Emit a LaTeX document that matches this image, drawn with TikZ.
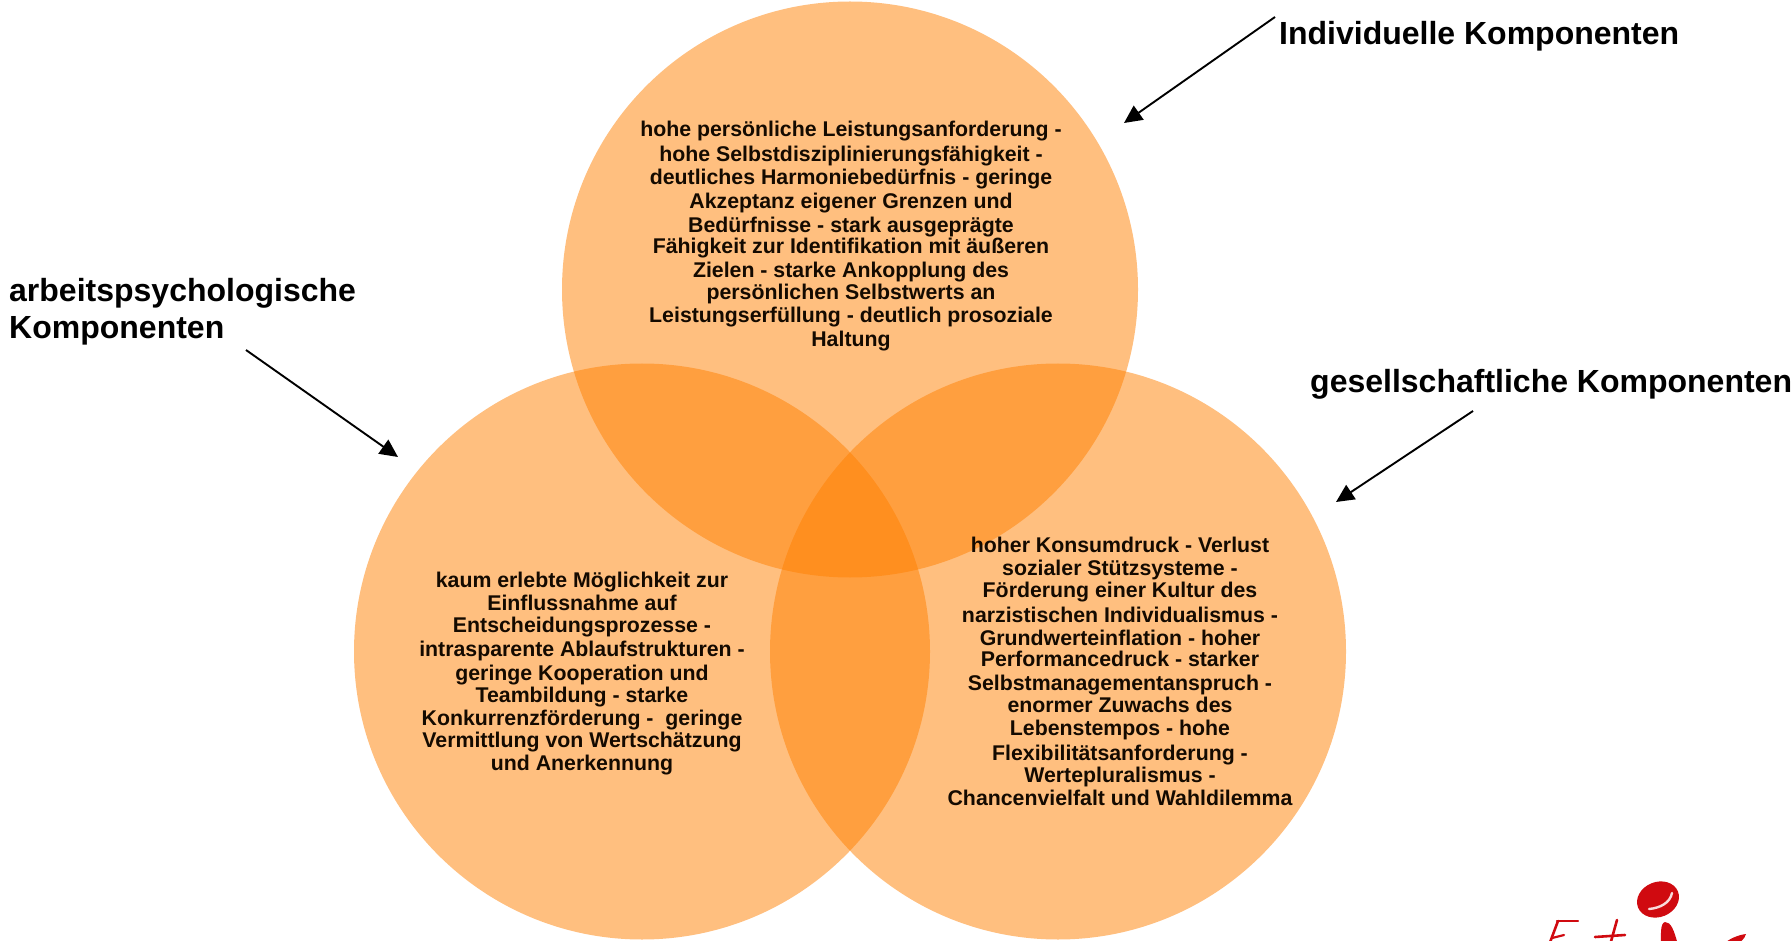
\documentclass[tikz,border=0pt]{standalone}
\usepackage{fontspec}
\setmainfont{Liberation Sans}
\usetikzlibrary{arrows.meta}
\definecolor{blob}{HTML}{FF7F00}
\definecolor{logored}{HTML}{D00A10}
\tikzset{
  blobc/.style={circle,inner sep=0pt,minimum size=576pt,fill=blob,fill opacity=0.5},
  head/.style={inner sep=0pt,anchor=base west,align=left,font=\fontsize{32}{37.5}\selectfont\bfseries},
  body/.style={inner sep=0pt,anchor=north,align=center,font=\fontsize{21.3}{23}\selectfont\bfseries,text=black!92!orange},
  pointer/.style={draw=black,line width=1.9pt,-{Triangle[length=18pt,width=17pt]},shorten >=0pt},
  logostroke/.style={draw=logored,line cap=round,line join=round}
}
\begin{document}
\begin{tikzpicture}[x=1pt,y=-1pt]
\useasboundingbox (0,0) rectangle (1792,941);
\node[blobc] (top) at (850,289.5) {};
\node[blobc] (left) at (642,651.5) {};
\node[blobc] (right) at (1058,651.5) {};

\node[body] (toptext) at (851,121) {hohe persönliche Leistungsanforderung -\\[2pt]
hohe Selbstdisziplinierungsfähigkeit -\\
deutliches Harmoniebedürfnis - geringe\\[1pt]
Akzeptanz eigener Grenzen und\\[1pt]
Bedürfnisse - stark ausgeprägte\\[-2pt]
Fähigkeit zur Identifikation mit äußeren\\[1pt]
Zielen - starke Ankopplung des\\[-1pt]
persönlichen Selbstwerts an\\
Leistungserfüllung - deutlich prosoziale\\[1pt]
Haltung};

\node[body] (lefttext) at (582,572) {kaum erlebte Möglichkeit zur\\
Einflussnahme auf\\[-1pt]
Entscheidungsprozesse -\\[1pt]
intrasparente Ablaufstrukturen -\\[1pt]
geringe Kooperation und\\[-1pt]
Teambildung - starke\\
Konkurrenzförderung -\ \ geringe\\[-1pt]
Vermittlung von Wertschätzung\\
und Anerkennung};

\node[body] (righttext) at (1120,537) {hoher Konsumdruck - Verlust\\
sozialer Stützsysteme -\\[-1pt]
Förderung einer Kultur des\\[2pt]
narzistischen Individualismus -\\
Grundwerteinflation - hoher\\[-2pt]
Performancedruck - starker\\[1pt]
Selbstmanagementanspruch -\\[-1pt]
enormer Zuwachs des\\
Lebenstempos - hohe\\[2pt]
Flexibilitätsanforderung -\\[-1pt]
Wertepluralismus -\\
Chancenvielfalt und Wahldilemma};

\node[head] (lblind) at (1279,45) {Individuelle Komponenten};
\node[head] (lblges) at (1310,392) {gesellschaftliche Komponenten};
\node[head] (lblarb) at (9,339) {arbeitspsychologische\\Komponenten};

\coordinate (aind) at (1275,17);
\coordinate (tind) at (1124,123);
\coordinate (aarb) at (246,350);
\coordinate (tarb) at (398,457);
\coordinate (ages) at (1473,411);
\coordinate (tges) at (1336,502);
\draw[pointer] (aind) -- (tind);
\draw[pointer] (aarb) -- (tarb);
\draw[pointer] (ages) -- (tges);

% logo, cut off by the lower page edge
\begin{scope}
\clip (0,0) rectangle (1792,941);
\fill[logored,rotate around={22:(1658,899.5)}] (1658,899.5) ellipse [x radius=21.5,y radius=17.5];
\draw[white!85!logored,line width=2.4pt,line cap=round] (1649,909) .. controls (1660,908) and (1670,903) .. (1672,893);
\fill[logored] (1665,922) .. controls (1671,922) and (1674,930) .. (1678,945) -- (1661,945) .. controls (1661,935) and (1660,923) .. (1665,922) -- cycle;
\draw[logostroke,line width=2.4pt] (1557,921) -- (1578,921);
\draw[logostroke,line width=2.6pt] (1558,921) -- (1549,945);
\draw[logostroke,line width=2.2pt] (1552,938) -- (1564,935);
\draw[logostroke,line width=2.6pt] (1617,920) -- (1610,945);
\draw[logostroke,line width=2.6pt] (1595,937) -- (1625,935);
\fill[logored] (1723,945) .. controls (1728,939) and (1738,935) .. (1746,934) .. controls (1745,939) and (1738,945) .. (1732,947) -- cycle;
\end{scope}
\end{tikzpicture}
\end{document}
